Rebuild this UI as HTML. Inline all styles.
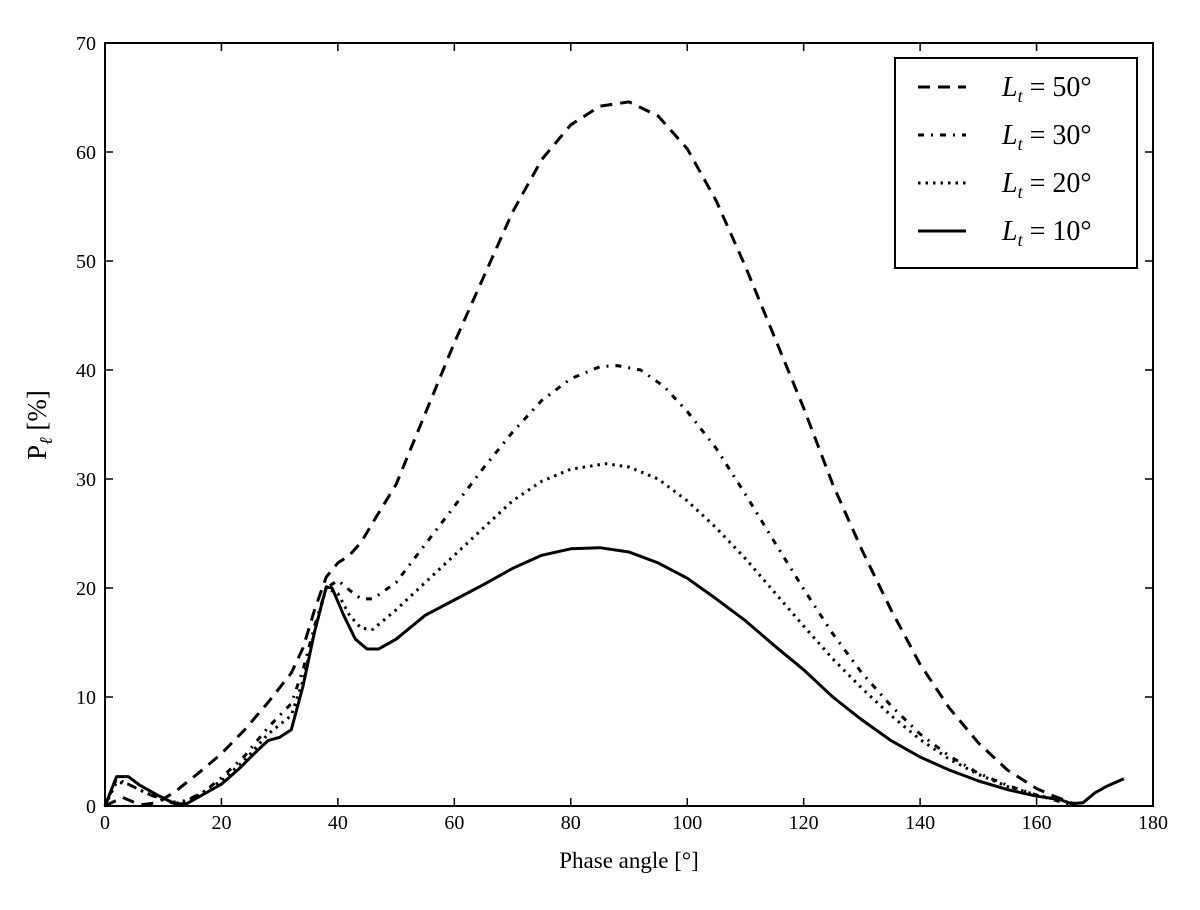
<!DOCTYPE html>
<html><head><meta charset="utf-8"><style>
body{margin:0;background:#fff}
svg text{font-family:"Liberation Serif",serif;fill:#000}
</style></head><body>
<svg id="chart" width="1200" height="905" xmlns="http://www.w3.org/2000/svg">
<rect x="0" y="0" width="1200" height="905" fill="#fff"/>
<g id="ticks"></g>
<g id="series"></g>
<rect x="105" y="43" width="1048" height="763" fill="none" stroke="#000" stroke-width="2"/>
<text x="629" y="868" font-size="23" text-anchor="middle">Phase angle [°]</text>
<text transform="translate(46,425) rotate(-90)" font-size="27" text-anchor="middle">P<tspan font-style="italic" font-size="18" dy="6">ℓ</tspan><tspan dy="-6"> [%]</tspan></text>
<g>
<rect x="895" y="58" width="242" height="210" fill="#fff" stroke="#000" stroke-width="2"/>
<g id="legend-items"></g>
</g>
</svg>
<script>
const xTicks=[0,20,40,60,80,100,120,140,160,180];
const yTicks=[0,10,20,30,40,50,60,70];
const labels=["50","30","20","10"];
const x50=[0,3,6,9,12,16,20,24,28,32,34,36,38,40,42,44,46,50,55,60,65,70,75,80,85,90,95,100,105,110,115,120,125,130,135,140,145,150,155,160,163,166];
const y50=[0,0.8,0.1,0.3,1.3,3.0,4.8,7.0,9.5,12.2,14.5,18,21,22.3,23,24.2,26,29.5,36,42.5,48.5,54.5,59.3,62.5,64.2,64.6,63.3,60.3,55.5,49.5,43,36.5,29.5,23.5,18,13,9,5.8,3.3,1.6,0.9,0.3];
const x30=[0,2,4,7,11,14,17,20,24,28,32,34,36,38,40,42,44,46,50,55,60,65,70,75,80,85,88,92,96,100,105,110,115,120,125,130,135,140,145,150,155,160,164,166];
const y30=[0,2.5,2.0,1.2,0.3,0.5,1.3,2.6,4.6,7.2,9.4,12.5,16.5,20,20.7,19.8,19,19,20.5,24,27.5,31,34.3,37.2,39.2,40.3,40.4,40,38.5,36.2,32.8,28.6,24.2,19.9,15.8,12.2,9.2,6.6,4.6,3.0,1.9,1.0,0.4,0.1];
const x20=[0,2,4,7,10,13,16,20,24,28,32,34,36,38,40,42,44,46,50,55,60,65,70,75,80,86,90,95,100,105,110,115,120,125,130,135,140,145,150,155,160,165,167];
const y20=[0,2.2,2.0,1.2,0.6,0.2,1.0,2.3,4.2,6.6,8.3,11.5,16,20,19.5,17.5,16.3,16.2,18,20.5,23,25.5,28,29.8,30.9,31.4,31.1,30,28,25.5,22.7,19.6,16.5,13.5,10.8,8.3,6.1,4.3,2.9,1.8,1.0,0.4,0.2];
const x10=[0,2,4,6,9,12,14,17,20,23,26,28,30,32,34,36,38,39,41,43,45,47,50,55,60,65,70,75,80,85,90,95,100,105,110,115,120,125,130,135,140,145,150,155,160,164,166,168,170,172,175];
const y10=[0,2.7,2.7,1.9,1.0,0.2,0.2,1.1,2.0,3.4,5.0,6.0,6.3,7.0,11,16,20.1,20.0,17.5,15.3,14.4,14.4,15.3,17.5,18.9,20.3,21.8,23.0,23.6,23.7,23.3,22.3,20.9,19.0,17.0,14.7,12.5,10.0,7.9,6.0,4.5,3.3,2.3,1.5,0.9,0.6,0.2,0.3,1.2,1.8,2.5];
const NS="http://www.w3.org/2000/svg";
const X=v=>105+v*1048/180, Y=v=>806-v*763/70;
const dashes=["12,8","6,7,2,7","2.5,5",""];
function mk(t,a,p){const e=document.createElementNS(NS,t);for(const k in a)e.setAttribute(k,a[k]);p.appendChild(e);return e;}
const tg=document.getElementById('ticks');
xTicks.forEach(v=>{
  const l=mk('path',{d:`M${X(v)},806v-8M${X(v)},43v8`,stroke:'#000','stroke-width':1.5},tg);
  
  
  const t=mk('text',{x:X(v),y:829,'font-size':20,'text-anchor':'middle'},tg);t.textContent=v;
  
  
});
yTicks.forEach(v=>{
  const l=mk('path',{d:`M105,${Y(v)}h8M1153,${Y(v)}h-8`,stroke:'#000','stroke-width':1.5},tg);
  
  
  const t=mk('text',{x:96,y:Y(v)+7,'font-size':20,'text-anchor':'end'},tg);t.textContent=v;
  
  
});
const sg=document.getElementById('series');
[[x50,y50],[x30,y30],[x20,y20],[x10,y10]].forEach((s,i)=>{
  const d=s[0].map((v,j)=>(j?'L':'M')+X(v).toFixed(1)+','+Y(s[1][j]).toFixed(1)).join('');
  const p=mk('path',{d,fill:'none',stroke:'#000','stroke-width':3,'stroke-dasharray':dashes[i],'stroke-linejoin':'round'},sg);
  
  
});
const lg=document.getElementById('legend-items');
labels.forEach((lab,i)=>{
  const y=87+i*48;
  const g=mk('g',{},lg);
  
  
  mk('path',{d:`M918,${y}h48`,stroke:'#000','stroke-width':3,'stroke-dasharray':dashes[i]},g);
  const t=mk('text',{x:1002,y:y+9,'font-size':28},g);
  t.innerHTML=`<tspan font-style="italic">L</tspan><tspan font-style="italic" font-size="18" dy="6">t</tspan><tspan dy="-6"> = ${lab}°</tspan>`;
});
</script>
</body></html>
